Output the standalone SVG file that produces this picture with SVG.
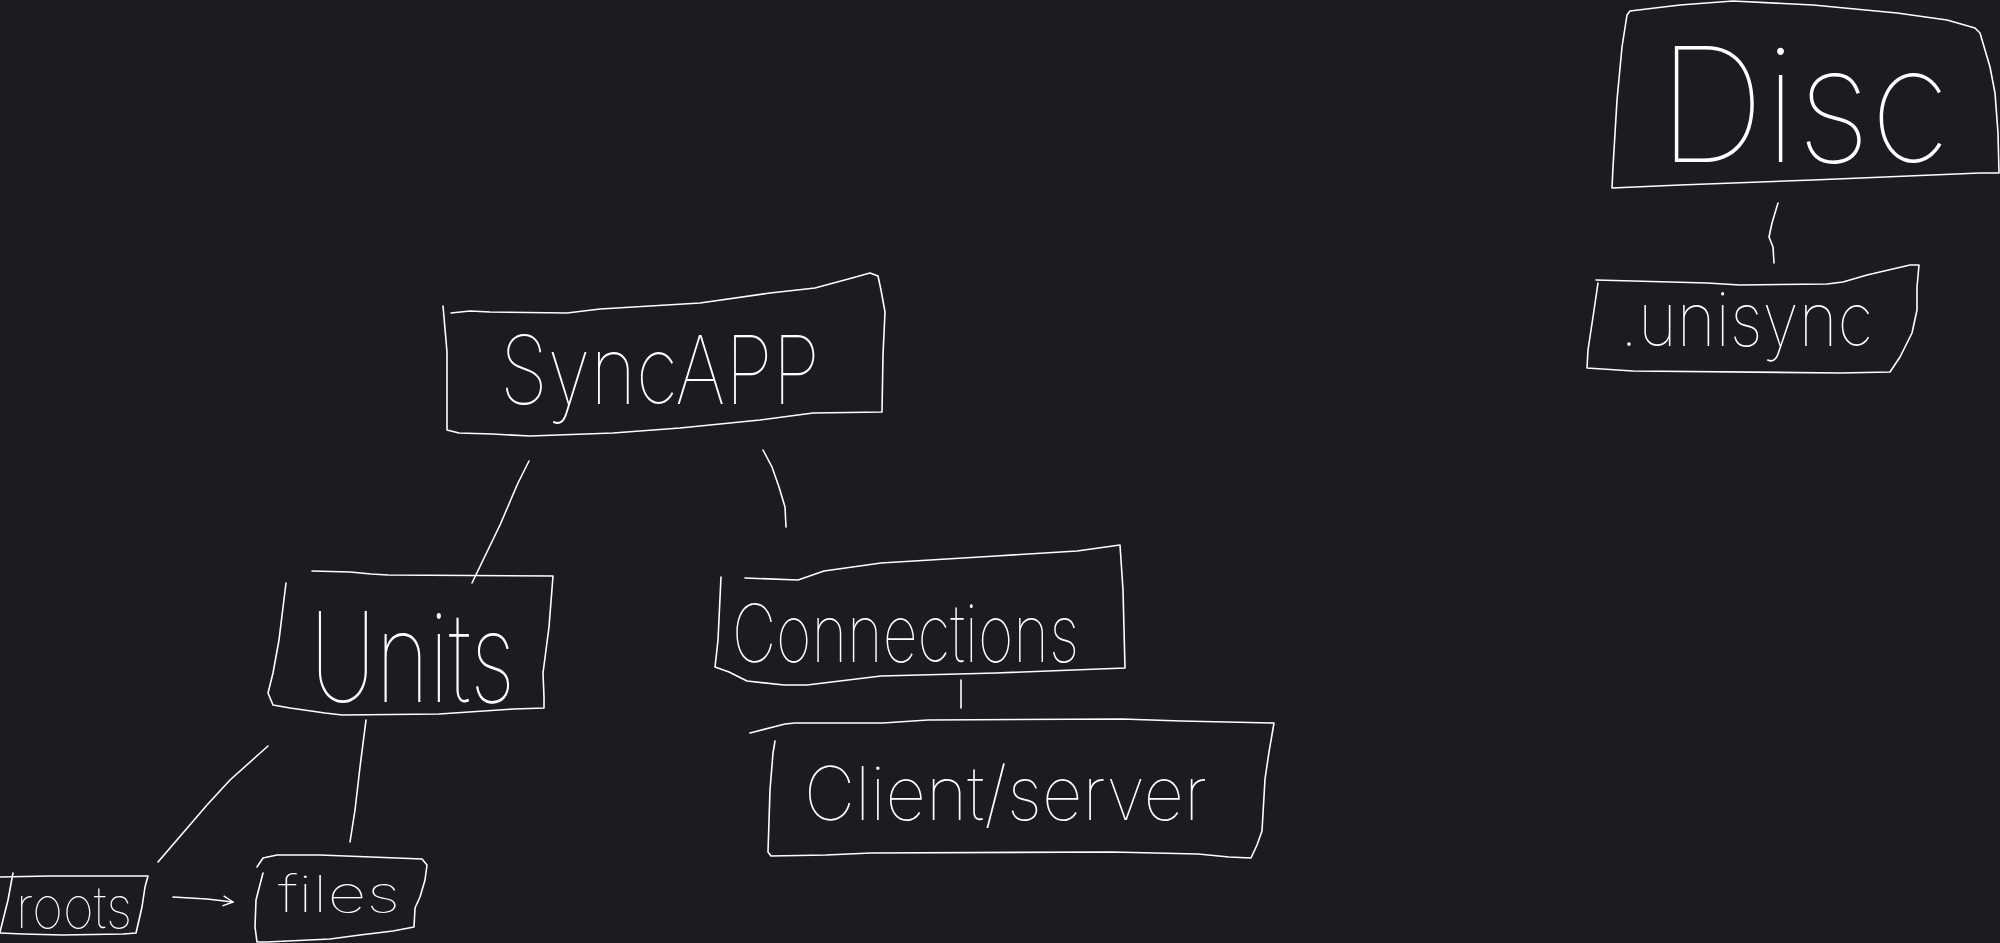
<svg xmlns="http://www.w3.org/2000/svg" width="2000" height="943" viewBox="0 0 2000 943">
<style>
.ln{fill:none;stroke:#ffffff;stroke-width:1.6;stroke-linejoin:round;stroke-linecap:round}
.tx{fill:#ffffff;font-family:Inter,Lato,Roboto,"Noto Sans","Liberation Sans",sans-serif;font-weight:100}
</style>
<defs>
<marker id="open" viewBox="0 0 12 12" refX="11" refY="6" markerWidth="12" markerHeight="12" markerUnits="userSpaceOnUse" orient="auto">
<path d="M1 1 L11 6 L1 11" fill="none" stroke="#fff" stroke-width="1.4"/>
</marker>
</defs>
<rect width="2000" height="943" fill="#1b1c20"/>

<g id="connectors">
<path class="ln" d="M529 461 L518 483 L500 525 L472 583"/>
<path class="ln" d="M763 450 L772 467 L779 487 L785 507 L786 527"/>
<path class="ln" d="M961 680 L961 708"/>
<path class="ln" d="M366 720 L360 767 L355 810 L350 842"/>
<path class="ln" d="M268 746 L230 780 L207 805 L158 862"/>
<path class="ln" d="M173 897 L207 899 L233 902" marker-end="url(#open)"/>
<path class="ln" d="M1778 203 L1772 223 L1769 237 L1773 247 L1774 263"/>
</g>

<g id="syncapp">
<path class="ln" d="M443 306 L447 352 L447 430 L459 433 L492 434 L530 436 L613 433 L680 428 L760 420 L813 413 L882 412 L883 355 L885 312 L881 290 L878 276 L870 273 L852 278 L815 288 L770 293 L700 303 L600 309 L567 313 L490 312 L470 311 L451 313"/>
<text class="tx" x="500" y="404" font-size="95" textLength="320" lengthAdjust="spacingAndGlyphs">SyncAPP</text>
</g>

<g id="units">
<path class="ln" d="M312 571 L350 572 L371 574 L388 575 L553 576 L549 627 L543 673 L544 697 L544 708 L514 709 L439 714 L342 715 L325 713 L290 708 L273 705 L268 693 L273 673 L279 640 L286 583"/>
<text class="tx" x="310" y="702" font-size="125" textLength="205" lengthAdjust="spacingAndGlyphs">Units</text>
</g>

<g id="connections">
<path class="ln" d="M745 578 L798 580 L824 571 L881 563 L996 556 L1077 551 L1120 545 L1123 590 L1125 668 L996 673 L881 676 L807 685 L784 685 L747 681 L729 672 L715 667 L718 640 L721 577"/>
<text class="tx" x="732" y="662" font-size="80" textLength="347" lengthAdjust="spacingAndGlyphs">Connections</text>
</g>

<g id="clientserver">
<path class="ln" d="M750 733 L785 724 L795 723 L814 723 L883 723 L928 720 L1122 719 L1181 721 L1274 723 L1269 752 L1265 779 L1262 831 L1257 845 L1251 858 L1229 857 L1198 854 L1112 852 L871 853 L826 855 L771 856 L768 852 L770 790 L773 753 L775 741"/>
<text class="tx" x="804" y="820" font-size="74" textLength="403" lengthAdjust="spacingAndGlyphs">Client/server</text>
</g>

<g id="roots">
<path class="ln" d="M0 877 L49 876 L148 876 L145 887 L142 907 L136 933 L123 934 L62 935 L23 934 L0 933"/>
<path class="ln" d="M13 873 L8 900 L0 932"/>
<text class="tx" x="16" y="928" font-size="58" textLength="116" lengthAdjust="spacingAndGlyphs">roots</text>
</g>

<g id="files">
<path class="ln" d="M257 867 L263 858 L277 855 L320 855 L397 858 L422 859 L427 865 L425 880 L420 897 L415 908 L414 927 L393 931 L360 935 L330 939 L267 942 L257 942 L255 927 L256 900 L263 873"/>
<text class="tx" x="278" y="912" font-size="50" textLength="122" lengthAdjust="spacingAndGlyphs">files</text>
</g>

<g id="disc">
<path class="ln" d="M1630 11 L1680 5 L1733 1 L1813 5 L1897 13 L1947 20 L1975 28 L1980 33 L1990 67 L1995 93 L1998 133 L1999 173 L1980 173 L1813 180 L1680 185 L1612 188 L1613 167 L1617 100 L1622 47 L1627 15 L1630 11"/>
<text class="tx" x="1658" y="162" font-size="160" textLength="292" lengthAdjust="spacingAndGlyphs">Disc</text>
</g>

<g id="unisync">
<path class="ln" d="M1596 280 L1707 283 L1740 285 L1827 284 L1843 282 L1867 275 L1910 265 L1919 265 L1917 287 L1917 310 L1912 333 L1900 357 L1890 372 L1840 373 L1633 371 L1587 368 L1588 350 L1593 317 L1598 283"/>
<text class="tx" x="1620" y="346" font-size="75" textLength="253" lengthAdjust="spacingAndGlyphs">.unisync</text>
</g>
</svg>
